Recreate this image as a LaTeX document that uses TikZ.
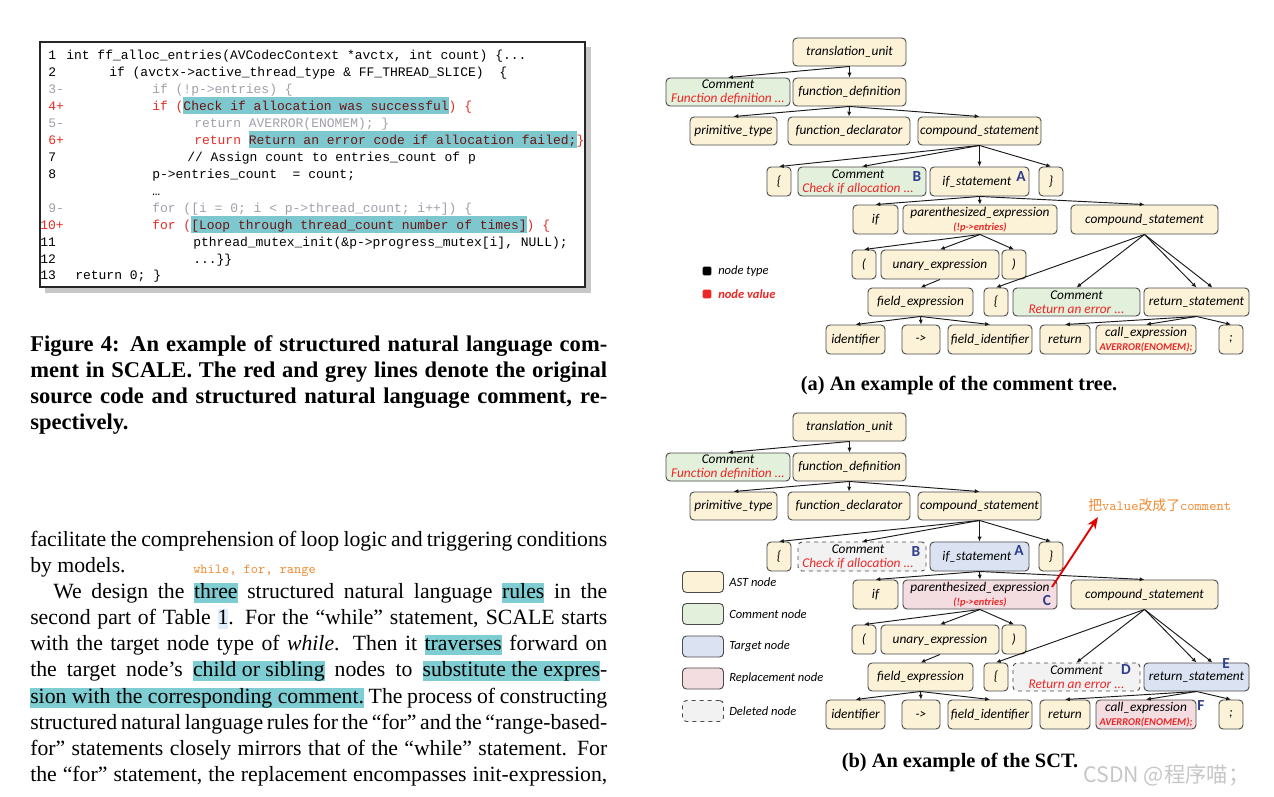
\documentclass[tikz,border=0pt]{standalone}
\usepackage{fontspec}
\setmainfont{Liberation Serif}
\newfontfamily\codefam{Liberation Mono}
\newfontfamily\nodefam{Carlito}
\newfontfamily\cjk{Noto Sans CJK SC}
\usetikzlibrary{arrows.meta,calc}
\definecolor{astc}{RGB}{251,242,216}
\definecolor{cmtc}{RGB}{227,240,219}
\definecolor{tgtc}{RGB}{219,227,243}
\definecolor{repc}{RGB}{243,221,225}
\definecolor{delc}{RGB}{242,242,242}
\definecolor{nborder}{RGB}{75,75,75}
\definecolor{valred}{RGB}{236,38,38}
\definecolor{lblue}{RGB}{48,62,140}
\definecolor{codegrey}{RGB}{160,160,170}
\definecolor{codered}{RGB}{232,44,40}
\definecolor{hltext}{RGB}{110,20,20}
\definecolor{hlcode}{RGB}{124,200,206}
\definecolor{hlbody}{RGB}{126,205,210}
\definecolor{hltab}{RGB}{224,237,250}
\definecolor{orng}{RGB}{242,140,50}
\newcommand\nf{\nodefam\itshape\fontsize{10}{10.5}\selectfont}
\newcommand\lf{\nodefam\itshape\fontsize{9.4}{10}\selectfont}
\newcommand\codef{\codefam\fontsize{9.75}{11}\selectfont}
\newcommand\bodyf{\fontsize{16.3}{19.5}\selectfont}
\newcommand\capf{\fontsize{16.9}{19.5}\selectfont\bfseries}
\newcommand\subv[1]{{\fontsize{7.8}{8.3}\selectfont\bfseries\textcolor{valred}{#1}}}
\newcommand\hlc[1]{{\setlength{\fboxsep}{0pt}\colorbox{hlcode}{\rule[-3pt]{0pt}{12.75pt}\textcolor{hltext}{#1}}}}
\newcommand\hlb[1]{{\setlength{\fboxsep}{0pt}\colorbox{hlbody}{\rule[-3.8pt]{0pt}{15.3pt}#1}}}
\newcommand\hlt[1]{{\setlength{\fboxsep}{0pt}\colorbox{hltab}{\rule[-3.8pt]{0pt}{15.3pt}#1}}}
\newcommand\TN[7]{\node[#1, minimum width={0.75pt*(#5-#3)}, minimum height={0.75pt*(#6-#4)}] (#2) at ({(#3+#5)/2},{(#4+#6)/2+\yo}) {#7};}
\newcommand\DrawTree[8]{%
\def\yo{#2}%
\TN{ast}{#1tu}{793}{38}{906}{66}{translation\_unit}
\TN{cmt}{#1cmA}{666}{78}{790}{106}{Comment\\\textcolor{valred}{Function definition ...}}
\TN{ast}{#1fd}{793}{78}{906}{106}{function\_definition}
\TN{ast}{#1pt}{690}{117}{777}{145}{primitive\_type}
\TN{ast}{#1fdc}{788}{117}{910}{145}{function\_declarator}
\TN{ast}{#1csa}{918}{117}{1041}{145}{compound\_statement}
\TN{ast}{#1lba}{767}{167}{791}{196}{\{}
\TN{#3}{#1cmB}{798}{167}{926}{196}{\hspace*{-6pt}Comment\\\hspace*{-6pt}\textcolor{valred}{Check if allocation ...}}
\TN{#4}{#1ifs}{930}{167}{1029}{196}{if\_statement\hspace*{4pt}}
\TN{ast}{#1rba}{1039}{167}{1063}{196}{\}}
\TN{ast}{#1ifk}{853}{205}{898}{234}{if}
\TN{#5}{#1pe}{903}{205}{1057}{234}{parenthesized\_expression\\\subv{(!p->entries)}}
\TN{ast}{#1csb}{1071}{205}{1218}{234}{compound\_statement}
\TN{ast}{#1lp}{852}{250}{876}{279}{(}
\TN{ast}{#1ue}{881}{250}{999}{279}{unary\_expression}
\TN{ast}{#1rp}{1002}{250}{1026}{279}{)}
\TN{ast}{#1fe}{868}{288}{973}{316}{field\_expression}
\TN{ast}{#1lbb}{984}{288}{1008}{316}{\{}
\TN{#6}{#1cmD}{1013}{288}{1140}{316}{Comment\\\textcolor{valred}{Return an error ...}}
\TN{#7}{#1rs}{1144}{288}{1249}{316}{\raisebox{-2pt}{return\_statement}}
\TN{ast}{#1id}{826}{325}{885}{354}{identifier}
\TN{ast}{#1ar}{902}{325}{940}{354}{->}
\TN{ast}{#1fid}{948}{325}{1032}{354}{field\_identifier}
\TN{ast}{#1ret}{1040}{325}{1090}{354}{return}
\TN{#8}{#1ce}{1096}{325}{1196}{354}{call\_expression\\\subv{AVERROR(ENOMEM);}}
\TN{ast}{#1sc}{1219}{325}{1243}{354}{;}
\draw[edge] (#1tu.south) -- (#1cmA.north);
\draw[edge] (#1tu.south) -- (#1fd.north);
\draw[edge] (#1fd.south) -- (#1pt.north);
\draw[edge] (#1fd.south) -- (#1fdc.north);
\draw[edge] (#1fd.south) -- (#1csa.north);
\draw[edge] (#1csa.south) -- (#1lba.north);
\draw[edge] (#1csa.south) -- (#1cmB.north);
\draw[edge] (#1csa.south) -- (#1ifs.north);
\draw[edge] (#1csa.south) -- (#1rba.north);
\draw[edge] (#1ifs.south) -- (#1ifk.north);
\draw[edge] (#1ifs.south) -- (#1pe.north);
\draw[edge] (#1ifs.south) -- (#1csb.north);
\draw[edge] (#1pe.south) -- (#1lp.north);
\draw[edge] (#1pe.south) -- (#1ue.north);
\draw[edge] (#1pe.south) -- (#1rp.north);
\draw[edge] (#1ue.south) -- (#1fe.north);
\draw[edge] (#1fe.south) -- (#1id.north);
\draw[edge] (#1fe.south) -- (#1ar.north);
\draw[edge] (#1fe.south) -- (#1fid.north);
\draw[edge] (#1csb.south) -- (#1lbb.north);
\draw[edge] (#1csb.south) -- (#1cmD.north);
\draw[edge] (#1csb.south) -- (#1rs.north);
\draw[edge] (#1csb.south) -- ($(#1rs.north)+(16,0)$);
\draw[edge] (#1rs.south) -- (#1ret.north);
\draw[edge] (#1rs.south) -- (#1ce.north);
\draw[edge] (#1rs.south) -- (#1sc.north);
}
\begin{document}
\begin{tikzpicture}[x=0.75pt,y=-0.75pt,
  ast/.style={draw=nborder, fill=astc, rounded corners=3pt, line width=0.7pt, inner sep=0.5pt, font=\nf, align=center, text=black},
  cmt/.style={ast, fill=cmtc},
  tgt/.style={ast, fill=tgtc},
  rep/.style={ast, fill=repc},
  del/.style={ast, fill=delc, dashed},
  edge/.style={-{Latex[length=3.6pt,width=3.2pt]}, line width=0.7pt, draw=black!90},
  code/.style={anchor=base west, inner sep=0, font=\codef},
  lbl/.style={inner sep=0, font=\nodefam\bfseries\fontsize{11.5}{12}\selectfont, text=lblue},
  body/.style={anchor=base west, inner sep=0, font=\bodyf},
  subcap/.style={anchor=base, inner sep=0, font=\fontsize{15.3}{18}\selectfont\bfseries},
  legbox/.style={ast, minimum width=30.75pt, minimum height=15.75pt},
  legtxt/.style={anchor=west, inner sep=0, font=\lf}]
\useasboundingbox (0,0) rectangle (1274,796);
\fill[white] (0,0) rectangle (1274,796);
% code box
\fill[black!22] (45,47) rectangle (591,293);
\draw[fill=white, line width=1.1pt, draw=black!85] (40,42) rectangle (585,287);
\node[code] (n1) at (48,59) {1};
\node[code] (c1) at (66,59) {int ff\_alloc\_entries(AVCodecContext *avctx, int count) \{...};
\node[code] (n2) at (48,76) {2};
\node[code] (c2) at (109,76) {if (avctx->active\_thread\_type \& FF\_THREAD\_SLICE)\ \ \{};
\node[code, text=codegrey] (n3) at (48,93) {3-};
\node[code, text=codegrey] (c3) at (152,93) {if (!p->entries) \{};
\node[code, text=codered] (n4) at (48,110) {4+};
\node[code, text=codered] (c4) at (152,110) {if (\hlc{Check if allocation was successful}) \{};
\node[code, text=codegrey] (n5) at (48,127) {5-};
\node[code, text=codegrey] (c5) at (194,127) {return AVERROR(ENOMEM); \}};
\node[code, text=codered] (n6) at (48,144) {6+};
\node[code, text=codered] (c6) at (194,144) {return \hlc{Return an error code if allocation failed;}\}};
\node[code] (n7) at (48,161) {7};
\node[code] (c7) at (187,161) {// Assign count to entries\_count of p};
\node[code] (n8) at (48,178) {8};
\node[code] (c8) at (152,178) {p->entries\_count\ \ = count;};
\node[code] (c8b) at (152,195) {…};
\node[code, text=codegrey] (n9) at (48,212) {9-};
\node[code, text=codegrey] (c9) at (152,212) {for ([i = 0; i < p->thread\_count; i++]) \{};
\node[code, text=codered] (n10) at (40,229) {10+};
\node[code, text=codered] (c10) at (152,229) {for (\hlc{[Loop through thread\_count number of times]}) \{};
\node[code] (n11) at (40,246) {11};
\node[code] (c11) at (193,246) {pthread\_mutex\_init(\&p->progress\_mutex[i], NULL);};
\node[code] (n12) at (40,263) {12};
\node[code] (c12) at (193,263) {...\}\}};
\node[code] (n13) at (40,279) {13};
\node[code] (c13) at (75,279) {return 0; \}};
% caption
\node[body, font=\capf] (f1) at (30,351) {\makebox[432.75pt][s]{Figure 4: An example of structured natural language com-}};
\node[body, font=\capf] (f2) at (30,377) {\makebox[432.75pt][s]{ment in SCALE. The red and grey lines denote the original}};
\node[body, font=\capf] (f3) at (30,403) {\makebox[432.75pt][s]{source code and structured natural language comment, re-}};
\node[body, font=\capf] (f4) at (30,429) {spectively.};
% body text
\node[body] (t1) at (30,546) {\makebox[432.75pt][s]{facilitate the comprehension of loop logic and triggering conditions}};
\node[body] (t2) at (30,572) {by models.};
\node[anchor=base west, inner sep=0, font=\ttfamily\fontsize{10.3}{11}\selectfont, text=orng] (t2b) at (193,573) {while, for, range};
\node[body] (t3) at (53,598) {\makebox[415.5pt][s]{We design the \hlb{three} structured natural language \hlb{rules} in the}};
\node[body] (t4) at (30,624) {\makebox[432.75pt][s]{second part of Table \hlt{1}. For the “while” statement, SCALE starts}};
\node[body] (t5) at (30,650) {\makebox[432.75pt][s]{with the target node type of \textit{while}. Then it \hlb{traverses} forward on}};
\node[body] (t6) at (30,676) {\makebox[432.75pt][s]{the target node’s \hlb{child or sibling} nodes to \hlb{substitute the expres}-}};
\node[body] (t7) at (30,703) {\makebox[432.75pt][s]{\hlb{sion with the corresponding comment.} The process of constructing}};
\node[body] (t8) at (30,729) {\makebox[432.75pt][s]{structured natural language rules for the “for” and the “range-based-}};
\node[body] (t9) at (30,755) {\makebox[432.75pt][s]{for” statements closely mirrors that of the “while” statement. For}};
\node[body] (t10) at (30,781) {\makebox[432.75pt][s]{the “for” statement, the replacement encompasses init-expression,}};
% trees
\DrawTree{a}{0}{cmt}{ast}{ast}{cmt}{ast}{ast}
\DrawTree{b}{375}{del}{tgt}{rep}{del}{tgt}{rep}
\node[lbl] (aA) at (1021,177) {A};
\node[lbl] (aB) at (917,177) {B};
\node[lbl] (bA) at (1019,551) {A};
\node[lbl] (bB) at (916,552) {B};
\node[lbl] (bC) at (1047,601) {C};
\node[lbl] (bD) at (1126,670) {D};
\node[lbl] (bE) at (1226,664) {E};
\node[lbl] (bF) at (1201,706) {F};
% legend a
\node[fill=black, rounded corners=1pt, minimum size=6.5pt, inner sep=0] (lk1) at (707,271) {};
\node[legtxt] (lt1) at (718,271) {node type};
\node[fill=valred, rounded corners=1pt, minimum size=6.5pt, inner sep=0] (lk2) at (707,294) {};
\node[legtxt, font=\lf\bfseries, text=valred] (lt2) at (718,294) {node value};
% legend b
\node[legbox] (lb1) at (703,582) {};
\node[legtxt] (lbt1) at (729,582) {AST node};
\node[legbox, fill=cmtc] (lb2) at (703,614) {};
\node[legtxt] (lbt2) at (729,614) {Comment node};
\node[legbox, fill=tgtc] (lb3) at (703,646.5) {};
\node[legtxt] (lbt3) at (729,646.5) {Target node};
\node[legbox, fill=repc] (lb4) at (703,678.5) {};
\node[legtxt] (lbt4) at (729,678.5) {Replacement node};
\node[legbox, fill=delc, dashed] (lb5) at (703,711) {};
\node[legtxt] (lbt5) at (729,711) {Deleted node};
% sub-captions
\node[subcap] (capa) at (959,390) {(a) An example of the comment tree.};
\node[subcap] (capb) at (960,767) {(b) An example of the SCT.};
% annotation
\node[anchor=base west, inner sep=0, text=orng, font=\fontsize{10.4}{11}\selectfont] (note) at (1088,510) {{\cjk 把}\ttfamily value{\cjk 改成了}comment};
\coordinate (arrtail) at (1052,587);
\coordinate (arrtip) at (1098,517);
\draw[-{Stealth[length=9pt,width=7pt]}, line width=1.4pt, draw=red!90!black] (arrtail) -- (arrtip);
% watermark
\node[anchor=base west, inner sep=0, text=black!22, font=\cjk\fontsize{16}{17}\selectfont] (wm) at (1083,782) {CSDN @程序喵；};
\end{tikzpicture}
\end{document}
